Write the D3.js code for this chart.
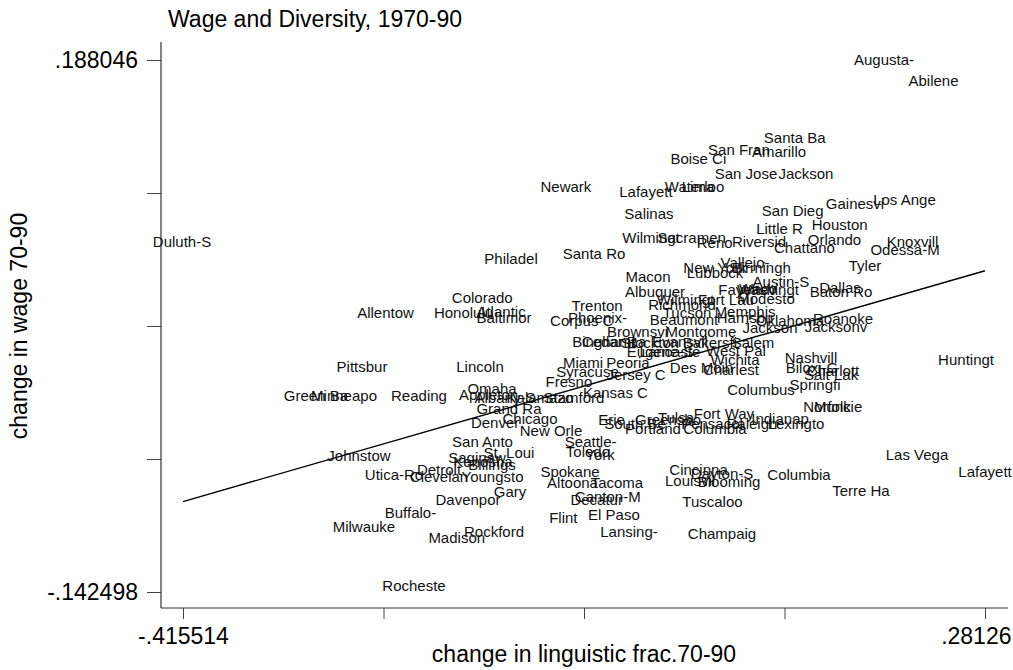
<!DOCTYPE html>
<html>
<head>
<meta charset="utf-8">
<script src="https://d3js.org/d3.v7.min.js"></script>
<style>
body { margin: 0; background: #fff; }
text { font-family: Arial, "Liberation Sans", sans-serif; fill: #000; }
</style>
</head>
<body>
<div id="chart"></div>
<script>
// city labels used as markers (Stata style)
var cityNames = ["Augusta-","Abilene","Santa Ba","San Fran","Amarillo","Boise Ci","San Jose","Jackson","Newark","Lafayett",
  "Waterloo","Lima","Salinas","San Dieg","Gainesvi","Los Ange","Houston","Little R","Wilmingt","Sacramen",
  "Reno","Riversid","Orlando","Knoxvill","Chattano","Odessa-M","Tyler","Vallejo-","Birmingh","New York",
  "Lubbock","Austin-S","Fayettev","Washingt","Waco","Dallas","Baton Ro","Modesto","Fort Lau","Wilmingt",
  "Richmond","Albuquer","Macon","Santa Ro","Philadel","Duluth-S","Colorado","Allentow","Honolulu","Atlantic",
  "Baltimor","Trenton","Phoenix-","Corpus C","Tucson","Beaumont","Memphis","Harrisbu","Oklahoma","Roanoke",
  "Jackson","Jacksonv","Brownsvi","Montgome","Binghamt","Cedar Ra","Stockton","Evansvil","Bakersfi","Salem",
  "Lancaste","Eugene-S","West Pal","Wichita","Nashvill","Biloxi-G","Charlott","Salt Lak","Springfi","Columbus",
  "Charlest","Des Moin","Norfolk","Muncie","Fort Way","Indianap","Lexingto","Columbia","Raleigh","Pensacol",
  "Las Vega","Lafayett","Columbia","Terre Ha","Dayton-S","Blooming","Tuscaloo","Champaig","Cincinna","Louisvil",
  "New Orle","Seattle-","Toledo","York","St. Loui","Spokane","Altoona","Tacoma","Canton-M","Decatur",
  "Flint","El Paso","Lansing-","Rockford","Grand Ra","Omaha","Appleton","Reading","Green Ba","Minneapo",
  "Pittsbur","Lincoln","Denver","Chicago","San Anto","Johnstow","Saginaw","Kenosha","Billings","Detroit",
  "Utica-Ro","Clevelan","Youngsto","Gary","Davenpor","Buffalo-","Milwauke","Madison","Rocheste","Huntingt",
  "Miami","Peoria","Syracuse","Jersey C","Fresno","Kansas C","Albany-S","Kalamazo","Stamford","Erie",
  "Greensbo","Tulsa","South Be","Portland"];

// change in linguistic fraction 70-90
var linguisticChange = [0.1935,0.2365,0.1159,0.0675,0.1023,0.0322,0.0736,0.1257,-0.0828,-0.0133,
  0.0289,0.0319,-0.0107,0.1142,0.1683,0.2113,0.1550,0.1027,-0.0089,0.0264,
  0.0464,0.0849,0.1505,0.2183,0.1244,0.2118,0.1770,0.0728,0.0869,0.0467,
  0.0467,0.1040,0.0745,0.0927,0.0840,0.1553,0.1562,0.0910,0.0562,0.0211,
  0.0180,-0.0054,-0.0115,-0.0584,-0.1305,-0.4164,-0.1555,-0.2396,-0.1718,-0.1392,
  -0.1366,-0.0558,-0.0554,-0.0691,0.0224,0.0198,0.0728,0.0728,0.1118,0.1579,
  0.0945,0.1518,-0.0206,0.0345,-0.0498,-0.0411,-0.0098,0.0163,0.0423,0.0797,
  0.0076,-0.0011,0.0649,0.0641,0.1301,0.1310,0.1492,0.1475,0.1336,0.0867,
  0.0606,0.0350,0.1440,0.1536,0.0545,0.1032,0.1171,0.0467,0.0788,0.0441,
  0.2222,0.2813,0.1197,0.1735,0.0528,0.0589,0.0445,0.0528,0.0324,0.0250,
  -0.0958,-0.0613,-0.0637,-0.0532,-0.1323,-0.0793,-0.0771,-0.0385,-0.0465,-0.0561,
  -0.0851,-0.0411,-0.0280,-0.1453,-0.1323,-0.1470,-0.1501,-0.2105,-0.3000,-0.2756,
  -0.2600,-0.1575,-0.1444,-0.1140,-0.1553,-0.2626,-0.1601,-0.1549,-0.1470,-0.1931,
  -0.2322,-0.1931,-0.1466,-0.1314,-0.1679,-0.2179,-0.2583,-0.1777,-0.2148,0.2648,
  -0.0680,-0.0289,-0.0641,-0.0219,-0.0802,-0.0398,-0.1358,-0.1054,-0.0758,-0.0432,
  0.0059,0.0128,-0.0228,-0.0072];

// change in wage 70-90
var wageChange = [0.1880,0.1754,0.1400,0.1324,0.1313,0.1265,0.1176,0.1172,0.1091,0.1065,
  0.1091,0.1091,0.0926,0.0947,0.0986,0.1013,0.0858,0.0833,0.0775,0.0775,
  0.0743,0.0754,0.0765,0.0754,0.0717,0.0702,0.0605,0.0624,0.0588,0.0588,
  0.0557,0.0505,0.0454,0.0454,0.0458,0.0468,0.0443,0.0398,0.0392,0.0392,
  0.0361,0.0443,0.0532,0.0675,0.0647,0.0754,0.0406,0.0313,0.0313,0.0315,
  0.0282,0.0354,0.0277,0.0261,0.0309,0.0267,0.0315,0.0277,0.0259,0.0274,
  0.0215,0.0226,0.0195,0.0195,0.0128,0.0128,0.0122,0.0128,0.0122,0.0122,
  0.0071,0.0071,0.0075,0.0019,0.0029,-0.0033,-0.0048,-0.0074,-0.0136,-0.0167,
  -0.0043,-0.0033,-0.0271,-0.0271,-0.0319,-0.0350,-0.0381,-0.0410,-0.0381,-0.0381,
  -0.0571,-0.0675,-0.0696,-0.0795,-0.0689,-0.0737,-0.0866,-0.1062,-0.0664,-0.0733,
  -0.0422,-0.0489,-0.0551,-0.0571,-0.0557,-0.0679,-0.0748,-0.0748,-0.0830,-0.0851,
  -0.0965,-0.0944,-0.1052,-0.1052,-0.0285,-0.0161,-0.0198,-0.0203,-0.0203,-0.0203,
  -0.0027,-0.0023,-0.0375,-0.0348,-0.0493,-0.0576,-0.0588,-0.0617,-0.0633,-0.0664,
  -0.0696,-0.0706,-0.0706,-0.0799,-0.0851,-0.0934,-0.1017,-0.1089,-0.1383,0.0016,
  -0.0002,-0.0002,-0.0054,-0.0074,-0.0116,-0.0189,-0.0220,-0.0220,-0.0220,-0.0354,
  -0.0354,-0.0344,-0.0381,-0.0410];

// fitted line, at the ends of the x range
var fitX = [-0.415514, 0.28126];
var fitY = [-0.0863, 0.0571];

var xTickValues = [-0.415514, -0.241320, -0.067127, 0.107067, 0.28126];
var xTickLabels = ["-.415514", "", "", "", ".28126"];
var yTickValues = [-0.142498, -0.059862, 0.022774, 0.105410, 0.188046];
var yTickLabels = ["-.142498", "", "", "", ".188046"];

var W = 1013, H = 670;
var frame = {left: 161, top: 42, right: 1008, bottom: 608};

var svg = d3.select("#chart")
  .append("svg")
    .attr("width", W)
    .attr("height", H);

var x = d3.scaleLinear()
  .domain([xTickValues[0], xTickValues[4]])
  .range([183, 985]);
var y = d3.scaleLinear()
  .domain([yTickValues[0], yTickValues[4]])
  .range([592, 60]);

// axes
var yAxis = d3.axisLeft(y)
  .tickValues(yTickValues)
  .tickFormat(function(d, i) { return yTickLabels[i]; })
  .tickSize(14)
  .tickPadding(9);
var gy = svg.append("g")
  .attr("transform", "translate(" + frame.left + ",0)")
  .call(yAxis);
gy.select(".domain").remove();

var xAxis = d3.axisBottom(x)
  .tickValues(xTickValues)
  .tickFormat(function(d, i) { return xTickLabels[i]; })
  .tickSize(11)
  .tickPadding(9);
var gx = svg.append("g")
  .attr("transform", "translate(0," + frame.bottom + ")")
  .call(xAxis);
gx.select(".domain").remove();

svg.selectAll(".tick line").attr("stroke", "#444");
svg.selectAll(".tick text")
  .style("font-family", "Arial, 'Liberation Sans', sans-serif")
  .style("font-size", "23px")
  .attr("fill", "#000");

// last x label kept inside the page
gx.selectAll(".tick text")
  .filter(function(d, i) { return i === xTickValues.length - 1; })
  .attr("text-anchor", "end")
  .attr("x", W - 2 - x(xTickValues[4]));

svg.append("line")
  .attr("x1", frame.left).attr("x2", frame.left)
  .attr("y1", frame.top).attr("y2", frame.bottom)
  .attr("stroke", "#333").attr("stroke-width", 1.2);
svg.append("line")
  .attr("x1", frame.left).attr("x2", frame.right)
  .attr("y1", frame.bottom).attr("y2", frame.bottom)
  .attr("stroke", "#333").attr("stroke-width", 1.2);

// regression line
svg.append("line")
  .attr("x1", x(fitX[0])).attr("y1", y(fitY[0]))
  .attr("x2", x(fitX[1])).attr("y2", y(fitY[1]))
  .attr("stroke", "#000")
  .attr("stroke-width", 1.4);

// labels as markers
svg.append("g")
  .selectAll("text")
  .data(cityNames)
  .enter()
  .append("text")
    .attr("x", function(d, i) { return x(linguisticChange[i]); })
    .attr("y", function(d, i) { return y(wageChange[i]); })
    .attr("dy", "0.36em")
    .attr("text-anchor", "middle")
    .style("font-size", "15px")
    .style("fill", "#111")
    .text(function(d) { return d; });

// titles
svg.append("text")
  .attr("x", 168)
  .attr("y", 27)
  .style("font-size", "23px")
  .text("Wage and Diversity, 1970-90");

svg.append("text")
  .attr("text-anchor", "middle")
  .attr("transform", "translate(27,326) rotate(-90)")
  .style("font-size", "23px")
  .text("change in wage 70-90");

svg.append("text")
  .attr("text-anchor", "middle")
  .attr("x", 584)
  .attr("y", 662)
  .style("font-size", "23px")
  .text("change in linguistic frac.70-90");
</script>
</body>
</html>
